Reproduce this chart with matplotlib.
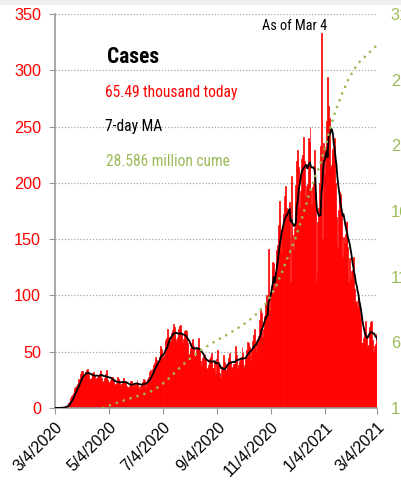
import numpy as np
import pandas as pd
import matplotlib
matplotlib.use("Agg")
import matplotlib.pyplot as plt
from matplotlib.patches import Rectangle

# daily new cases (thousands), Wed 3/4/2020 .. Thu 3/4/2021, one row per week (Wed..Tue)
daily_cases = [
    0.03, 0.05, 0.07, 0.09, 0.11, 0.18, 0.25,
    0.35, 0.45, 0.6, 0.75, 0.85, 1.4, 1.9,
    2.8, 4.6, 5.6, 6.9, 9.2, 10.4, 11.2,
    13.5, 17.9, 18.6, 19.7, 18.9, 21.4, 26.0,
    25.3, 30.2, 32.5, 33.1, 25.9, 29.0, 31.0,
    31.9, 33.5, 35.0, 30.0, 26.2, 25.6, 26.9,
    29.8, 31.5, 32.2, 28.5, 26.1, 26.4, 27.1,
    28.2, 30.5, 34.0, 32.8, 26.5, 23.2, 24.3,
    27.0, 30.1, 33.5, 28.6, 25.0, 22.4, 23.5,
    24.9, 27.6, 27.5, 25.6, 20.3, 19.5, 21.2,
    21.9, 27.1, 25.9, 24.0, 19.7, 21.6, 20.9,
    22.5, 26.6, 23.9, 24.1, 19.8, 18.5, 17.6,
    19.6, 22.2, 23.6, 24.3, 21.1, 18.6, 21.2,
    20.6, 22.4, 25.1, 22.3, 18.8, 17.2, 19.4,
    21.2, 23.1, 25.6, 24.6, 19.0, 18.1, 23.4,
    26.1, 27.8, 32.0, 33.5, 26.2, 31.3, 34.8,
    38.6, 39.8, 45.2, 42.3, 39.1, 40.5, 44.9,
    50.1, 55.3, 52.2, 44.8, 46.0, 46.9, 60.3,
    62.0, 61.2, 70.1, 63.5, 58.8, 59.3, 66.7,
    69.4, 74.8, 72.1, 64.2, 60.9, 58.6, 62.8,
    70.3, 72.5, 74.1, 66.2, 55.0, 57.4, 61.0,
    68.1, 68.9, 68.5, 57.4, 47.1, 47.6, 49.5,
    53.2, 57.8, 61.0, 55.1, 46.2, 45.9, 53.1,
    54.3, 52.1, 62.6, 51.8, 41.9, 37.6, 44.2,
    46.1, 44.5, 48.3, 44.0, 34.5, 35.8, 38.4,
    43.1, 44.9, 49.2, 42.7, 35.1, 35.9, 41.0,
    30.6, 43.5, 51.2, 41.0, 31.1, 24.5, 26.8,
    34.4, 36.2, 47.3, 40.8, 34.0, 33.5, 38.9,
    39.4, 44.8, 48.6, 42.1, 35.6, 36.2, 39.3,
    39.2, 45.1, 55.4, 46.8, 35.2, 38.1, 41.6,
    44.3, 45.6, 54.2, 49.0, 35.9, 38.5, 44.2,
    51.4, 58.2, 57.9, 54.5, 46.2, 42.1, 51.3,
    59.4, 64.8, 70.1, 56.2, 48.8, 58.4, 61.5,
    64.0, 78.5, 87.0, 84.5, 63.0, 70.5, 82.0,
    80.5, 92.0, 100.5, 90.0, 141.0, 86.0, 98.0,
    108.0, 123.0, 130.0, 128.5, 107.0, 120.5, 140.0,
    145.0, 163.0, 184.0, 166.0, 138.0, 158.0, 162.0,
    172.0, 188.0, 197.0, 178.0, 143.0, 173.0, 176.0,
    183.0, 112.0, 206.0, 154.0, 140.0, 160.0, 182.0,
    198.0, 219.0, 229.0, 214.0, 178.0, 193.0, 221.0,
    222.0, 225.0, 241.0, 219.0, 187.0, 197.0, 199.0,
    240.0, 236.0, 250.0, 194.0, 180.0, 196.0, 201.0,
    229.0, 190.0, 112.0, 121.0, 165.0, 178.0, 200.0,
    233.0, 333.0, 150.0, 235.0, 208.0, 185.0, 232.0,
    255.0, 294.0, 268.0, 258.0, 214.0, 216.0, 226.0,
    230.0, 232.0, 240.0, 200.0, 170.0, 143.0, 176.0,
    188.0, 193.0, 190.0, 172.0, 134.0, 152.0, 147.0,
    155.0, 165.0, 166.0, 143.0, 112.0, 133.0, 115.0,
    122.0, 123.0, 134.0, 106.0, 88.0, 93.0, 95.0,
    90.0, 98.0, 93.0, 80.0, 58.0, 50.0, 58.0,
    62.0, 70.0, 77.0, 65.0, 54.0, 56.0, 72.0,
    72.0, 76.0, 77.0, 60.0, 50.0, 55.0, 57.0,
    66.0, 65.49,
]

tick_dates = ["2020-03-04", "2020-05-04", "2020-07-04", "2020-09-04",
              "2020-11-04", "2021-01-04", "2021-03-04"]
tick_labels = ["3/4/2020", "5/4/2020", "7/4/2020", "9/4/2020",
               "11/4/2020", "1/4/2021", "3/4/2021"]
left_ticks = [0, 50, 100, 150, 200, 250, 300, 350]
right_ticks = [1, 6, 11, 16, 21, 26, 31]

RED = "#FF0000"
GREEN = "#9BBB59"
GRID = "#A6A6A6"
SPINE = "#999999"
NARROW = ["Roboto Condensed", "DejaVu Sans"]
REGULAR = ["Liberation Sans", "DejaVu Sans"]

dates = pd.date_range("2020-03-04", periods=len(daily_cases), freq="D")
s = pd.Series(daily_cases, index=dates)
ma7 = s.rolling(7, min_periods=1).mean()
cume = s.cumsum() / 1000.0  # millions

W, H = 402, 495
fig = plt.figure(figsize=(W / 100, H / 100), dpi=100)
fig.patches.append(Rectangle((0, 1 - 4 / H), 1, 4 / H, transform=fig.transFigure,
                             color="#EFEFEF", zorder=0))

ax = fig.add_axes([55 / W, 87 / H, (377 - 55) / W, (408 - 14) / H])
ax.bar(dates, s.values, width=1.0, color=RED, edgecolor=RED, linewidth=0.5, zorder=2)
ax.plot(dates, ma7.values, color="black", lw=1.3, zorder=3)

ax.set_xlim(pd.Timestamp("2020-03-04"), pd.Timestamp("2021-03-04"))
ax.set_ylim(0, 350)
ax.set_yticks(left_ticks)
ax.set_yticklabels([str(v) for v in left_ticks], color=RED, family=REGULAR, fontsize=11.7)
ax.set_xticks(pd.to_datetime(tick_dates))
ax.set_xticklabels(tick_labels, rotation=45, ha="right", va="top",
                   rotation_mode="anchor", family=REGULAR, fontsize=11.5)
ax.tick_params(axis="y", length=4, color=SPINE, pad=6)
ax.tick_params(axis="x", length=4, color=SPINE, pad=4)
ax.grid(axis="y", linestyle=(0, (1, 1.5)), color=GRID, lw=0.9)
ax.set_axisbelow(True)
for side in ["top", "right"]:
    ax.spines[side].set_visible(False)
for side in ["left", "bottom"]:
    ax.spines[side].set_color(SPINE)
    ax.spines[side].set_linewidth(1.2)

ax2 = ax.twinx()
ax2.plot(dates, cume.values, color=GREEN, lw=2.0,
         linestyle=(0, (0.01, 2.6)), dash_capstyle="round", zorder=4)
ax2.set_ylim(1, 31)
ax2.set_yticks(right_ticks)
ax2.set_yticklabels([str(v) for v in right_ticks], color=GREEN, family=REGULAR, fontsize=11.7)
ax2.tick_params(axis="y", length=0, pad=10)
for side in ["top", "right", "left", "bottom"]:
    ax2.spines[side].set_visible(False)


def ftext(x, y, txt, **kw):
    fig.text(x / W, 1 - y / H, txt, va="baseline", ha="left", **kw)


ftext(107, 63, "Cases", family=NARROW, fontsize=15.5, fontweight="bold", color="black")
ftext(105, 97, "65.49 thousand today", family=NARROW, fontsize=11.2, color=RED)
ftext(105, 131, "7-day MA", family=NARROW, fontsize=11.2, color="black")
ftext(106, 165.5, "28.586 million cume", family=NARROW, fontsize=11.2, color=GREEN)
ftext(262, 29.5, "As of Mar 4", family=NARROW, fontsize=10.3, color="black")

fig.savefig("out.png", dpi=100)
